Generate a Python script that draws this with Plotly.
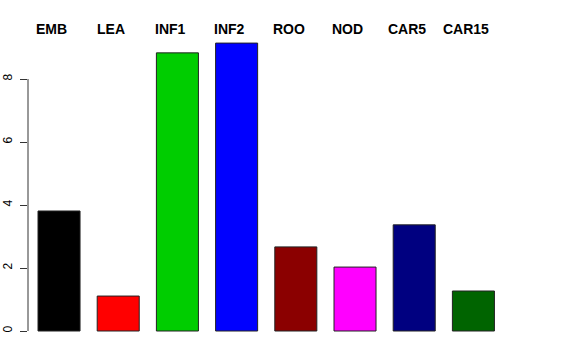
import plotly.graph_objects as go

categories = ["EMB", "LEA", "INF1", "INF2", "ROO", "NOD", "CAR5", "CAR15"]
values = [3.81, 1.11, 8.83, 9.14, 2.67, 2.03, 3.37, 1.27]
colors = ["#000000", "#FF0000", "#00CD00", "#0000FF", "#8B0000", "#FF00FF", "#000080", "#006400"]
yticks = [0, 2, 4, 6, 8]

xpos = list(range(len(categories)))

fig = go.Figure()
fig.add_trace(go.Bar(
    x=xpos, y=values, width=0.71,
    marker=dict(color=colors, line=dict(color="#222222", width=1)),
    hoverinfo="skip",
))

for i, c in enumerate(categories):
    fig.add_annotation(x=i - 0.12, y=1 - (29 - 20) / 325.0, xref="x", yref="paper",
                       text="<b>%s</b>" % c,
                       showarrow=False, font=dict(family="Liberation Sans", size=14, color="black"),
                       xanchor="center", yanchor="middle")

fig.update_layout(
    width=576, height=360,
    margin=dict(l=28, r=10, t=20, b=15, autoexpand=False),
    plot_bgcolor="white", paper_bgcolor="white",
    showlegend=False,
    xaxis=dict(range=[-0.524, 8.564], visible=False, automargin=False),
    yaxis=dict(range=[-0.444, 9.873], tickvals=yticks, ticktext=[str(v) for v in yticks],
               showgrid=False, zeroline=False, showline=False, automargin=False,
               ticks="outside", ticklen=7, tickcolor="#333333", tickwidth=1,
               tickangle=-90, ticklabelstandoff=3,
               tickfont=dict(family="Liberation Sans", size=12, color="black")),
)

fig.add_shape(type="line", xref="paper", yref="y", x0=0, x1=0, y0=0, y1=8,
              line=dict(color="#333333", width=1))

fig.write_html("out.html")
